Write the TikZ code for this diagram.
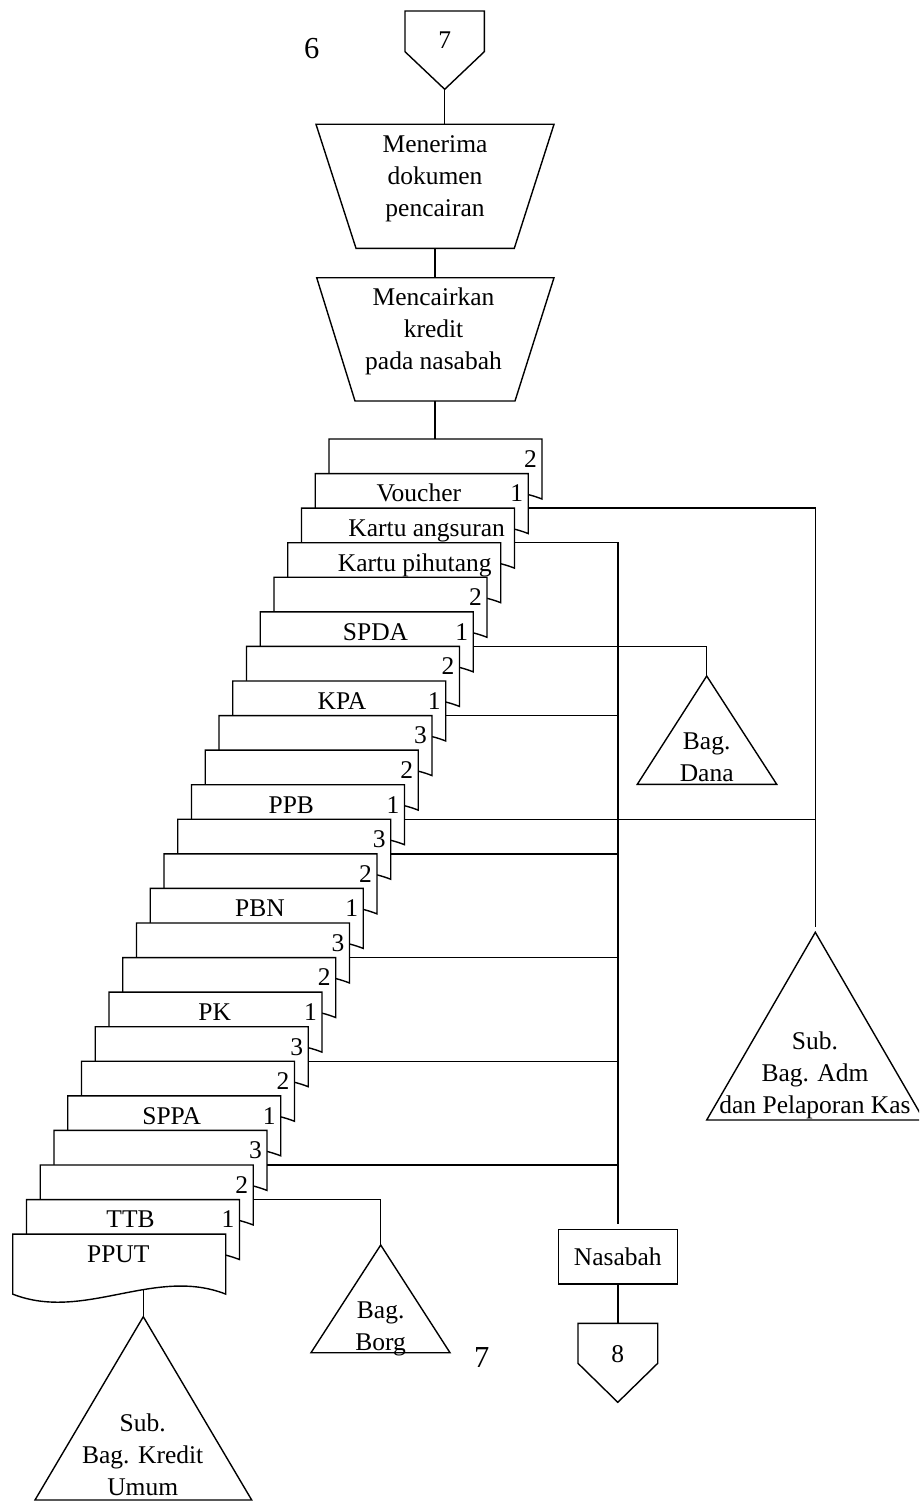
\documentclass[tikz,border=0pt]{standalone}
\usepackage{fontspec}
\setmainfont{Liberation Serif}
\begin{document}
\begin{tikzpicture}[x=1pt,y=-1pt,line width=1.4pt,
  every node/.style={inner sep=0pt,font=\fontsize{25.5}{32}\selectfont},
  txt/.style={anchor=base,align=center},
  num/.style={anchor=base east},
  bigtxt/.style={anchor=base,font=\fontsize{30.5}{36}\selectfont},
  shapeline/.style={draw,fill=white,line join=miter},
  link/.style={draw},
  gap/.style={shorten >=5pt}]
\useasboundingbox (0,0) rectangle (919,1501);
\clip (0,0) rectangle (919,1501);

% off-page connector 7 and page number
\draw[shapeline] (405,11) -- (484.3,11) -- (484.3,51.7) -- (444.7,89.3) -- (405,51.7) -- cycle;
\coordinate (c7) at (444.7,89.3);
\node[txt] (c7t) at (444.7,48.3) {7};
\node[bigtxt] (six) at (311.7,58.3) {6};

% manual operations (multi-line text is placed by its last baseline)
\draw[shapeline] (316,124.3) -- (554,124.3) -- (514.3,248.3) -- (356,248.3) -- cycle;
\coordinate (op1in) at (444.7,124.3);
\coordinate (op1out) at (435,248.3);
\node[txt] (op1) at (435,216.7) {Menerima\\dokumen\\pencairan};

\draw[shapeline] (316.7,277.7) -- (554,277.7) -- (515,401) -- (355,401) -- cycle;
\coordinate (op2in) at (435,277.7);
\coordinate (op2out) at (435,401);
\node[txt] (op2) at (433.5,369.3) {Mencairkan\\kredit\\pada nasabah};
\coordinate (stackin) at (435,439);

\draw[link] (c7) -- (op1in);
\draw[link] (op1out) -- (op2in);
\draw[link] (op2out) -- (stackin);

% stack of documents, back to front
\foreach \i in {0,...,23}{
  \pgfmathsetmacro{\L}{329-13.75*\i}
  \pgfmathsetmacro{\T}{439+34.57*\i}
  \pgfmathsetmacro{\R}{\L+213}
  \pgfmathsetmacro{\N}{\T+34.57}
  \draw[shapeline] (\L,\T) -- (\R,\T) -- (\R,\T+60)
     .. controls +(-71,-28) and +(71,28) .. (\L,\T+60) -- cycle;
  \coordinate (s\i) at (\R,\N);
}
\foreach \i/\t/\x in {1/Voucher/418.8, 2/Kartu angsuran/426.7, 3/Kartu pihutang/414.8,
    5/SPDA/375.5, 7/KPA/342, 10/PPB/291.3, 13/PBN/260, 16/PK/214.7,
    19/SPPA/171.7, 22/TTB/130.5, 23/PPUT/118.3}
  \node[txt] (lab\i) at (\x,439+34.57*\i+28.3) {\t};
\foreach \i/\d in {0/2,1/1,4/2,5/1,6/2,7/1,8/3,9/2,10/1,11/3,12/2,13/1,
    14/3,15/2,16/1,17/3,18/2,19/1,20/3,21/2,22/1}
  \node[num] (cp\i) at (329-13.75*\i+208.5,439+34.57*\i+28.3) {\d};
\coordinate (pputout) at (143.3,1289.5);

% receivers
\draw[shapeline] (706.7,676) -- (776.7,784.3) -- (637.3,784.3) -- cycle;
\coordinate (dana) at (706.7,676);
\node[txt] (danat) at (706.7,781.7) {Bag.\\Dana};

\draw[shapeline] (815.3,932.3) -- (924,1120) -- (706.7,1120) -- cycle;
\coordinate (adm) at (815.3,932.3);
\node[txt] (admt) at (815,1113.3) {Sub.\\Bag. Adm\\dan Pelaporan Kas};

\draw[shapeline] (380.7,1245) -- (450,1352.7) -- (311,1352.7) -- cycle;
\coordinate (borg) at (380.7,1245);
\node[txt] (borgt) at (380.7,1350) {Bag.\\Borg};

\draw[shapeline] (143.3,1316.7) -- (251.7,1500) -- (35,1500) -- cycle;
\coordinate (kredit) at (143.3,1316.7);
\node[txt] (kredt) at (142.7,1495) {Sub.\\Bag. Kredit\\Umum};

\node[draw,line width=1.4pt,minimum width=119pt,minimum height=54.7pt] (nas) at (617.8,1256.7) {Nasabah};

\draw[shapeline] (578,1323.3) -- (657.7,1323.3) -- (657.7,1363.3) -- (617.8,1402.3) -- (578,1363.3) -- cycle;
\coordinate (c8) at (617.8,1323.3);
\node[txt] (c8t) at (617.8,1362.3) {8};
\node[bigtxt] (seven) at (481.7,1367.7) {7};

% distribution lines
\draw[link,gap] (s1) -| (adm);
\draw[link] (s10) -- (s10 -| adm);
\draw[link,gap] (s2) -| (nas.north);
\foreach \k in {7,11,14,17,20}
  \draw[link] (s\k) -- (s\k -| nas.north);
\draw[link] (s5) -| (dana);
\draw[link] (s21) -| (borg);
\draw[link] (pputout) -- (kredit);
\draw[link] (nas.south) -- (c8);
\end{tikzpicture}
\end{document}
